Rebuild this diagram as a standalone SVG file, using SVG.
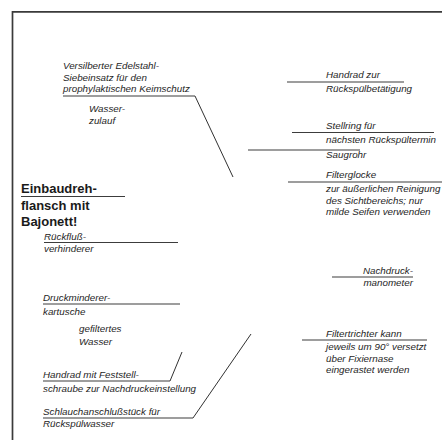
<svg xmlns="http://www.w3.org/2000/svg" width="442" height="441" viewBox="0 0 442 441">
<style>
.t{font-family:"Liberation Sans",Arial,sans-serif;font-style:italic;font-size:9.8px;fill:#262626}
.b{font-family:"Liberation Sans",Arial,sans-serif;font-weight:bold;font-size:13px;fill:#1a1a1a}
.u{stroke:#3c3c3c;stroke-width:1.1;fill:none}
.c{stroke:#1a1a1a;stroke-width:0.9;fill:none}
.f{stroke:#3a3a3a;stroke-width:1.7;fill:none}
</style>
<rect width="442" height="441" fill="#fff"/>
<g id="frame">
<path class="f" d="M12.5,440 V11.8 H442"/>
</g>
<g id="connectors">
<path class="c" d="M195,96 L233,177"/>
<path class="c" d="M170,381 L182,352"/>
<path class="c" d="M193,418 L251,334"/>
</g>
<g id="n-versilbert">
<text class="t" x="63" y="69">Versilberter Edelstahl-</text>
<text class="t" x="63" y="80.5">Siebeinsatz für den</text>
<text class="t" x="63" y="92">prophylaktischen Keimschutz</text>
<path class="u" d="M63,96 H195"/>
</g>
<g id="n-wasserzulauf">
<text class="t" x="89" y="112">Wasser-</text>
<text class="t" x="89" y="124">zulauf</text>
</g>
<g id="n-einbau">
<text class="b" x="21" y="193">Einbaudreh-</text>
<path class="u" d="M21,196.5 H125"/>
<text class="b" x="21" y="209.5">flansch mit</text>
<text class="b" x="21" y="225.5">Bajonett!</text>
</g>
<g id="n-rueckfluss">
<text class="t" x="44" y="240">Rückfluß-</text>
<path class="u" d="M44,242.5 H178"/>
<text class="t" x="44" y="251.5">verhinderer</text>
</g>
<g id="n-druckminderer">
<text class="t" x="43" y="301">Druckminderer-</text>
<path class="u" d="M43,304 H180"/>
<text class="t" x="43" y="315">kartusche</text>
</g>
<g id="n-gefiltert">
<text class="t" x="79" y="332">gefiltertes</text>
<text class="t" x="79" y="345">Wasser</text>
</g>
<g id="n-handrad-fest">
<text class="t" x="43" y="378">Handrad mit Feststell-</text>
<path class="u" d="M43,381 H170"/>
<text class="t" x="43" y="392">schraube zur Nachdruckeinstellung</text>
</g>
<g id="n-schlauch">
<text class="t" x="43" y="415">Schlauchanschlußstück für</text>
<path class="u" d="M43,418 H193"/>
<text class="t" x="43" y="427">Rückspülwasser</text>
</g>
<g id="n-handrad-rueck">
<text class="t" x="326" y="78">Handrad zur</text>
<path class="u" d="M287,82 H404"/>
<text class="t" x="326" y="92">Rückspülbetätigung</text>
</g>
<g id="n-stellring">
<text class="t" x="326" y="129">Stellring für</text>
<path class="u" d="M292,132.5 H434"/>
<text class="t" x="326" y="143">nächsten Rückspültermin</text>
</g>
<g id="n-saugrohr">
<path class="u" d="M248,150 H360"/>
<text class="t" x="326" y="158">Saugrohr</text>
</g>
<g id="n-filterglocke">
<text class="t" x="326" y="178">Filterglocke</text>
<path class="u" d="M288,182 H442"/>
<text class="t" x="326" y="192">zur äußerlichen Reinigung</text>
<text class="t" x="326" y="203.5">des Sichtbereichs; nur</text>
<text class="t" x="326" y="215">milde Seifen verwenden</text>
</g>
<g id="n-nachdruck">
<text class="t" x="413" y="274" text-anchor="end">Nachdruck-</text>
<path class="u" d="M332,277 H413"/>
<text class="t" x="413" y="286" text-anchor="end">manometer</text>
</g>
<g id="n-filtertrichter">
<text class="t" x="326" y="337">Filtertrichter kann</text>
<path class="u" d="M302,340 H427"/>
<text class="t" x="326" y="350">jeweils um 90° versetzt</text>
<text class="t" x="326" y="361.5">über Fixiernase</text>
<text class="t" x="326" y="373">eingerastet werden</text>
</g>
</svg>
